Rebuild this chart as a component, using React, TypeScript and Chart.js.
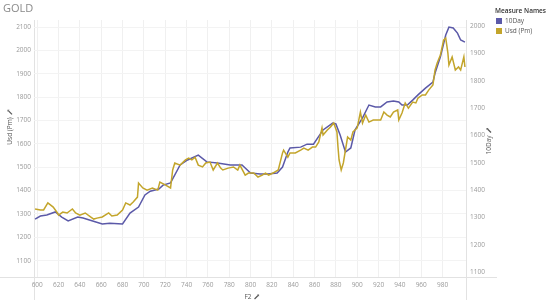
import React, { useEffect, useRef } from 'react';
import { Chart, registerables } from 'chart.js';

Chart.register(...registerables);

// ---- data ----
const f2Usd = [598, 603, 606, 610, 615, 619, 620, 624, 628, 633, 636, 640, 645, 650, 653, 656, 661, 667, 670, 675, 680, 683, 687, 690, 694, 695, 699, 703, 708, 713, 715, 720, 725, 727, 729, 734, 739, 742, 745, 748, 751, 755, 758, 762, 765, 769, 772, 774, 779, 784, 788, 790, 795, 798, 803, 807, 811, 814, 817, 821, 826, 830, 831, 835, 837, 842, 847, 850, 854, 858, 861, 864, 867, 868, 872, 875, 878, 881, 882, 883, 885, 887, 891, 894, 896, 900, 903, 905, 908, 911, 915, 922, 925, 928, 931, 934, 938, 939, 942, 945, 948, 952, 955, 957, 961, 964, 967, 971, 973, 975, 978, 981, 983, 985, 986, 989, 992, 995, 997, 1000, 1001];
const usdPm = [1321, 1317, 1317, 1347, 1329, 1304, 1295, 1308, 1304, 1321, 1304, 1295, 1304, 1287, 1278, 1282, 1287, 1304, 1291, 1295, 1317, 1347, 1338, 1351, 1372, 1432, 1411, 1402, 1411, 1402, 1436, 1424, 1411, 1488, 1518, 1509, 1531, 1539, 1531, 1543, 1509, 1501, 1518, 1522, 1488, 1518, 1496, 1488, 1496, 1501, 1488, 1509, 1466, 1475, 1475, 1458, 1466, 1475, 1466, 1475, 1488, 1561, 1573, 1543, 1561, 1561, 1573, 1582, 1573, 1586, 1586, 1608, 1668, 1638, 1659, 1672, 1689, 1651, 1586, 1531, 1488, 1518, 1629, 1616, 1651, 1668, 1736, 1689, 1723, 1693, 1702, 1702, 1736, 1723, 1715, 1736, 1745, 1702, 1732, 1775, 1753, 1779, 1775, 1796, 1809, 1809, 1830, 1852, 1916, 1946, 1980, 2044, 2053, 1989, 1937, 1972, 1916, 1929, 1916, 1972, 1929];

const f2TenDay = [598, 603, 609, 617, 623, 629, 638, 643, 652, 661, 668, 680, 687, 695, 701, 706, 714, 718, 725, 734, 741, 751, 759, 769, 781, 792, 800, 809, 816, 825, 830, 835, 837, 847, 853, 859, 868, 877, 880, 884, 889, 894, 898, 905, 911, 917, 922, 928, 934, 939, 942, 947, 952, 957, 964, 971, 973, 978, 983, 986, 990, 994, 997, 1001];
const tenDay = [1294, 1305, 1309, 1320, 1301, 1287, 1301, 1298, 1287, 1276, 1279, 1276, 1316, 1338, 1382, 1396, 1404, 1418, 1426, 1492, 1510, 1528, 1503, 1499, 1492, 1492, 1462, 1459, 1459, 1462, 1484, 1539, 1554, 1557, 1568, 1568, 1620, 1645, 1642, 1601, 1539, 1554, 1620, 1664, 1711, 1704, 1704, 1722, 1726, 1722, 1711, 1711, 1729, 1748, 1773, 1795, 1828, 1887, 1967, 1996, 1993, 1974, 1949, 1941];

const xTicks = [600, 620, 640, 660, 680, 700, 720, 740, 760, 780, 800, 820, 840, 860, 880, 900, 920, 940, 960, 980];
const leftTicks = [1100, 1200, 1300, 1400, 1500, 1600, 1700, 1800, 1900, 2000, 2100];
const rightTicks = [1100, 1200, 1300, 1400, 1500, 1600, 1700, 1800, 1900, 2000];

const chartTitle = 'GOLD';
const legendTitle = 'Measure Names';
const seriesNames = ['10Day', 'Usd (Pm)'];
const xTitle = 'F2';
const leftTitle = 'Usd (Pm)';
const rightTitle = '10Day';

const PURPLE = '#5b59a8';
const GOLD = '#c3a52b';
const FONT = '"Open Sans", "DejaVu Sans", sans-serif';

// small pill/pencil icon drawn after an axis title (local coords: text baseline-middle)
function drawIcon(ctx: CanvasRenderingContext2D, x: number, y: number) {
  ctx.save();
  ctx.strokeStyle = '#555';
  ctx.fillStyle = '#555';
  ctx.lineWidth = 1.2;
  ctx.beginPath();
  ctx.moveTo(x, y + 2);
  ctx.lineTo(x + 3.5, y - 1.5);
  ctx.stroke();
  ctx.beginPath();
  ctx.moveTo(x + 2.5, y - 2.5);
  ctx.lineTo(x + 4.5, y - 2.5);
  ctx.lineTo(x + 4.5, y - 0.5);
  ctx.closePath();
  ctx.fill();
  ctx.restore();
}

const decor = {
  id: 'decor',
  beforeDraw(chart: any) {
    const { ctx, chartArea } = chart;
    ctx.save();
    ctx.strokeStyle = '#e2e2e2';
    ctx.lineWidth = 1;
    ctx.beginPath();
    ctx.moveTo(Math.round(chartArea.left) + 0.5, chartArea.top);
    ctx.lineTo(Math.round(chartArea.left) + 0.5, 300);
    ctx.moveTo(Math.round(chartArea.right) + 0.5, chartArea.top);
    ctx.lineTo(Math.round(chartArea.right) + 0.5, 300);
    ctx.moveTo(0, Math.round(chartArea.bottom) + 0.5);
    ctx.lineTo(497, Math.round(chartArea.bottom) + 0.5);
    ctx.stroke();
    ctx.restore();
  },
  afterDraw(chart: any) {
    const { ctx, chartArea } = chart;
    ctx.save();
    // title
    ctx.fillStyle = '#8a8a8a';
    ctx.font = `11px ${FONT}`;
    ctx.textBaseline = 'middle';
    ctx.textAlign = 'left';
    ctx.fillText(chartTitle, 3, 9);

    // axis titles
    ctx.fillStyle = '#555';
    ctx.font = `6.5px ${FONT}`;
    ctx.textAlign = 'left';

    const drawTitle = (text: string, cx: number, cy: number, rotate: boolean) => {
      const w = ctx.measureText(text).width + 8;
      ctx.save();
      ctx.translate(cx, cy);
      if (rotate) ctx.rotate(-Math.PI / 2);
      ctx.fillText(text, -w / 2, 0);
      drawIcon(ctx, -w / 2 + w - 5, 0);
      ctx.restore();
    };
    drawTitle(xTitle, (chartArea.left + chartArea.right) / 2 + 2, 297, false);
    drawTitle(leftTitle, 10, 127, true);
    drawTitle(rightTitle, 489, 141, true);

    // legend
    ctx.textAlign = 'left';
    ctx.fillStyle = '#333';
    ctx.font = `600 6.5px ${FONT}`;
    ctx.fillText(legendTitle, 495, 11);
    const colors = [PURPLE, GOLD];
    ctx.font = `6.5px ${FONT}`;
    seriesNames.forEach((name, i) => {
      const y = 21 + i * 10;
      ctx.fillStyle = colors[i];
      ctx.fillRect(496, y - 3, 6, 6);
      ctx.fillStyle = '#555';
      ctx.fillText(name, 505, y);
    });
    ctx.restore();
  },
};

export default function App() {
  const ref = useRef<HTMLCanvasElement | null>(null);

  useEffect(() => {
    if (!ref.current) return;
    const tickFont = { family: FONT, size: 6.5 };
    const plain = (v: any) => String(v);
    const chart = new Chart(ref.current, {
      type: 'line',
      data: {
        datasets: [
          {
            label: seriesNames[1],
            data: f2Usd.map((x, i) => ({ x, y: usdPm[i] })),
            borderColor: GOLD,
            backgroundColor: GOLD,
            borderWidth: 1.5,
            pointRadius: 0,
            tension: 0,
            yAxisID: 'y',
          },
          {
            label: seriesNames[0],
            data: f2TenDay.map((x, i) => ({ x, y: tenDay[i] })),
            borderColor: PURPLE,
            backgroundColor: PURPLE,
            borderWidth: 1.5,
            pointRadius: 0,
            tension: 0,
            yAxisID: 'y1',
          },
        ],
      },
      options: {
        responsive: false,
        animation: false,
        layout: { padding: { top: 20, left: 0, right: 53, bottom: 0 } },
        plugins: {
          legend: { display: false },
          title: { display: false },
          tooltip: { enabled: false },
        },
        scales: {
          x: {
            type: 'linear',
            min: 597,
            max: 1002,
            afterBuildTicks: (s: any) => {
              s.ticks = xTicks.map((v) => ({ value: v }));
            },
            afterFit: (s: any) => {
              s.height = 31;
            },
            grid: { color: '#f0f0f0', drawTicks: false },
            border: { display: false },
            ticks: { font: tickFont, color: '#9a9a9a', padding: 4, maxRotation: 0, autoSkip: false, callback: plain },
          },
          y: {
            type: 'linear',
            position: 'left',
            min: 1030,
            max: 2130,
            afterBuildTicks: (s: any) => {
              s.ticks = leftTicks.map((v) => ({ value: v }));
            },
            afterFit: (s: any) => {
              s.width = 34;
            },
            grid: { color: '#f3f3f3', drawTicks: false },
            border: { display: false },
            ticks: { font: tickFont, color: '#9a9a9a', padding: 3, autoSkip: false, callback: plain },
          },
          y1: {
            type: 'linear',
            position: 'right',
            min: 1082,
            max: 2022,
            afterBuildTicks: (s: any) => {
              s.ticks = rightTicks.map((v) => ({ value: v }));
            },
            afterFit: (s: any) => {
              s.width = 31;
            },
            grid: { display: false, drawTicks: false },
            border: { display: false },
            ticks: { font: tickFont, color: '#9a9a9a', padding: 4, autoSkip: false, callback: plain },
          },
        },
      },
      plugins: [decor],
    });
    return () => chart.destroy();
  }, []);

  return (
    <div style={{ position: 'absolute', left: 0, top: 0, width: 550, height: 308, background: '#fff' }}>
      <canvas ref={ref} width={550} height={308} />
    </div>
  );
}
